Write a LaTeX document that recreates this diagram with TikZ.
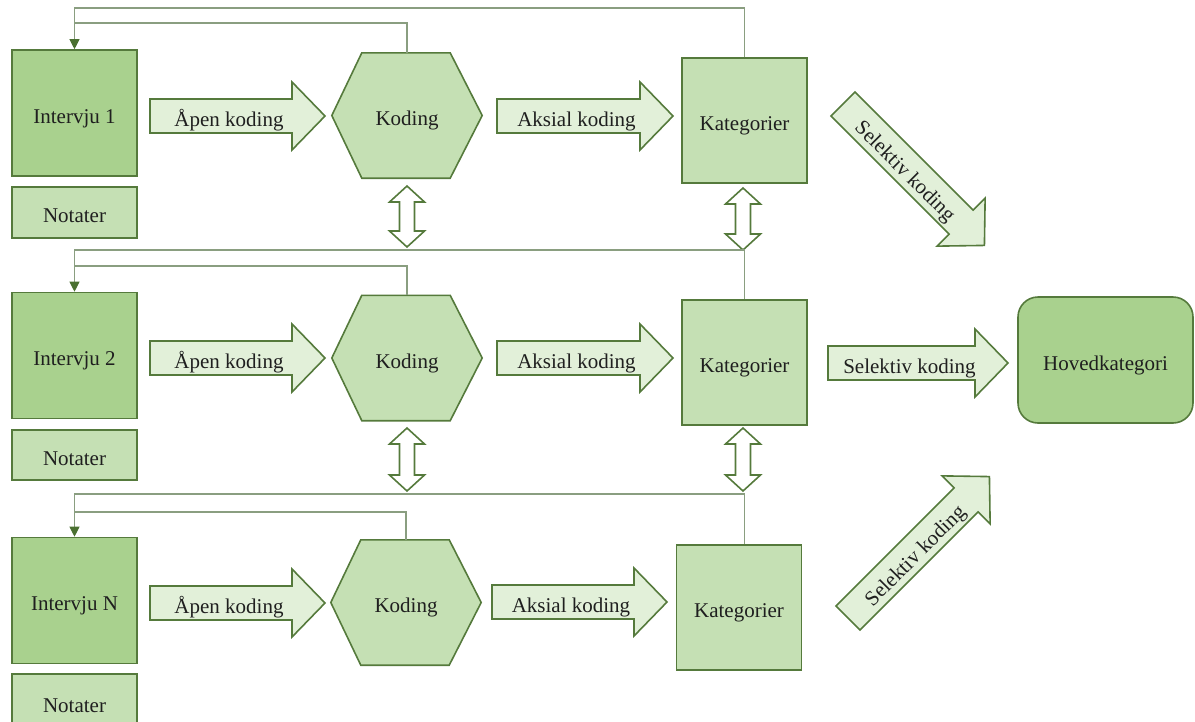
\documentclass[tikz,border=0pt]{standalone}
\usepackage{fontspec}
\setmainfont{Liberation Serif}
\usetikzlibrary{arrows.meta,calc}

\definecolor{boxdark}{HTML}{A9D18E}
\definecolor{boxmid}{HTML}{C5E0B4}
\definecolor{boxlight}{HTML}{E2F0D9}
\definecolor{edge}{HTML}{557A3C}
\definecolor{loopline}{HTML}{8A9E80}
\definecolor{tipgreen}{HTML}{4A7030}

\pgfdeclarelayer{background}
\pgfsetlayers{background,main}

\tikzset{
  x=1pt, y=-1pt,
  every node/.style={font=\fontsize{21}{24}\selectfont, text=black!88, text height=20pt, text depth=0pt},
  interview/.style={draw=edge, line width=1.6pt, fill=boxdark, minimum width=125pt, minimum height=126pt, inner sep=0},
  notes/.style={draw=edge, line width=1.6pt, fill=boxmid, minimum width=125pt, inner sep=0},
  category/.style={draw=edge, line width=1.6pt, fill=boxmid, minimum width=125pt, minimum height=125pt, inner sep=0},
  maincat/.style={draw=edge, line width=1.6pt, fill=boxdark, rounded corners=20pt, minimum width=175pt, minimum height=126pt, inner sep=0},
  hexlabel/.style={minimum width=150pt, minimum height=125pt, inner sep=0},
  hexfill/.style={draw=edge, line width=1.6pt, fill=boxmid, line join=miter},
  blockarrow/.style={draw=edge, line width=1.6pt, fill=boxlight, line join=miter},
  dblarrow/.style={draw=edge, line width=1.6pt, fill=white, line join=miter},
  arrowtext/.style={inner sep=0},
  loop/.style={draw=loopline, line width=1.1pt},
  loopin/.style={loop, -{Triangle[width=10pt,length=10pt,color=tipgreen]}},
}

% block arrow: name, tail x, tail y, angle, length, text
\newcommand\blockarr[6]{%
  \begin{scope}[shift={(#2,#3)}, rotate=#4]
    \draw[blockarrow] (0,-17) -- ({#5-33},-17) -- ({#5-33},-34) -- (#5,0)
      -- ({#5-33},34) -- ({#5-33},17) -- (0,17) -- cycle;
    \node[arrowtext, transform shape] (#1) at ({(#5-33)/2+8},0) {#6};
  \end{scope}}

% hollow two-headed arrow: x, top y, bottom y
\newcommand\dblarr[3]{%
  \draw[dblarrow] (#1,#2) -- ({#1+17.5},{#2+16}) -- ({#1+7.5},{#2+16})
    -- ({#1+7.5},{#3-16}) -- ({#1+17.5},{#3-16}) -- (#1,#3)
    -- ({#1-17.5},{#3-16}) -- ({#1-7.5},{#3-16}) -- ({#1-7.5},{#2+16})
    -- ({#1-17.5},{#2+16}) -- cycle;}

\begin{document}
\begin{tikzpicture}
\useasboundingbox (0,0) rectangle (1195,721);

% interviews and notes
\node[interview] (i1) at (74.5,113) {Intervju 1};
\node[interview] (i2) at (74.5,355.5) {Intervju 2};
\node[interview] (i3) at (74.5,600.5) {Intervju N};
\node[notes, minimum height=51pt] (n1) at (74.5,212.5) {Notater};
\node[notes, minimum height=50pt] (n2) at (74.5,455) {Notater};
\node[notes, minimum height=56pt] (n3) at (74.5,702) {Notater};

% coding hexagons
\node[hexlabel] (k1) at (407,115.5) {Koding};
\node[hexlabel] (k2) at (407,358) {Koding};
\node[hexlabel] (k3) at (406,602.5) {Koding};
\begin{pgfonlayer}{background}
\foreach \k in {k1,k2,k3}
  \draw[hexfill] (\k.west) -- ([xshift=30pt]\k.north west) -- ([xshift=-32pt]\k.north east)
    -- (\k.east) -- ([xshift=-32pt]\k.south east) -- ([xshift=30pt]\k.south west) -- cycle;
\end{pgfonlayer}

% categories
\node[category] (c1) at (744.5,120.5) {Kategorier};
\node[category] (c2) at (744.5,362.5) {Kategorier};
\node[category] (c3) at (739,607.5) {Kategorier};
\node[maincat] (hk) at (1105.5,360) {Hovedkategori};

% block arrows
\blockarr{a1}{150}{116}{0}{175}{Åpen koding}
\blockarr{a2}{150}{358}{0}{175}{Åpen koding}
\blockarr{a3}{150}{603}{0}{175}{Åpen koding}
\blockarr{x1}{497}{116}{0}{176}{Aksial koding}
\blockarr{x2}{497}{358}{0}{176}{Aksial koding}
\blockarr{x3}{492}{602}{0}{175}{Aksial koding}
\blockarr{s1}{843}{104}{-45}{200}{Selektiv koding}
\blockarr{s2}{828}{363}{0}{180}{Selektiv koding}
\blockarr{s3}{848}{618}{45}{200}{Selektiv koding}

% exchange between rows
\dblarr{407}{186}{247}
\dblarr{743}{188}{250}
\dblarr{407}{428}{491}
\dblarr{743}{428}{491}

% feedback loops back to the interviews
\coordinate (r1o) at (0,8);   \coordinate (r1i) at (0,23);
\coordinate (r2o) at (0,250); \coordinate (r2i) at (0,266);
\coordinate (r3o) at (0,494); \coordinate (r3i) at (0,512);

\draw[loopin] (c1.north) |- (i1.north |- r1o) -- (i1.north);
\draw[loop] (k1.north) |- (i1.north |- r1i);
\draw[loopin] (c2.north) |- (i2.north |- r2o) -- (i2.north);
\draw[loop] (k2.north) |- (i2.north |- r2i);
\draw[loopin] (c2.north |- c3.north) |- (i3.north |- r3o) -- (i3.north);
\draw[loop] (k3.north) |- (i3.north |- r3i);
\end{tikzpicture}
\end{document}
